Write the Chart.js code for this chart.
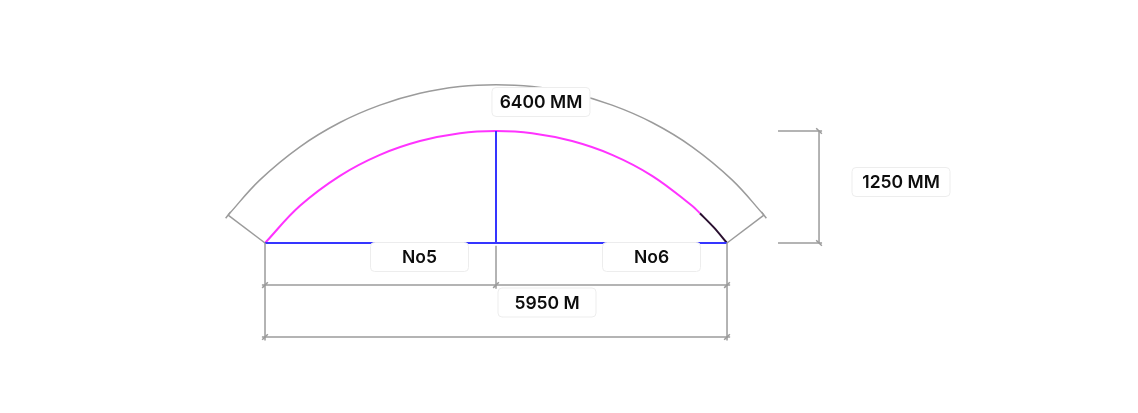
<!DOCTYPE html>
<html>
<head>
  <title>Arch drawing</title>
  <script src="https://cdn.jsdelivr.net/npm/chart.js"></script>
  <style>
    body { margin: 0; background: #fff; }
    #wrap { width: 1138px; height: 413px; position: relative; }
  </style>
</head>
<body>
  <div id="wrap"><canvas id="myChart"></canvas></div>
  <script>
    // drawing units are mm
    var archX = [0, 450, 965, 1480, 1995, 2510, 2975, 3440, 3955, 4470, 4985, 5500, 5600];
    var archY = [0, 415, 750, 984, 1138, 1226, 1250, 1226, 1138, 984, 750, 415, 333];
    var archEndX = [5600, 5780, 5950];
    var archEndY = [333, 174, 0];

    var outerX = [-475, -65, 450, 965, 1480, 1995, 2510, 2975, 3440, 3955, 4470, 4985, 5500, 6015, 6425];
    var outerY = [312, 705, 1074, 1345, 1539, 1671, 1746, 1767, 1746, 1671, 1539, 1345, 1074, 705, 312];

    var span = 5950;
    var rise = 1250;
    var dimY1 = -469;
    var dimY2 = -1049;
    var heightDimX = 7135;

    var labelText = ['6400 MM', 'No5', 'No6', '5950 M', '1250 MM'];
    var labelX = [3554, 1990, 4978, 3632, 8191];
    var labelY = [1574, -156, -156, -664, 681];

    function pts(xs, ys) {
      return xs.map(function(x, i) { return { x: x, y: ys[i] }; });
    }

    var gray = '#9b9b9b';

    function line(data, color, width, tension) {
      return {
        data: data,
        showLine: true,
        borderColor: color,
        borderWidth: width,
        pointRadius: 0,
        tension: tension || 0
      };
    }

    function ticks(data, rot) {
      return {
        data: data,
        showLine: false,
        pointStyle: 'line',
        pointRadius: 4,
        rotation: rot,
        borderColor: gray,
        borderWidth: 1.5
      };
    }

    var labelPlugin = {
      id: 'labels',
      afterDatasetsDraw: function(chart) {
        var c = chart.ctx;
        var xs = chart.scales.x, ys = chart.scales.y;
        c.save();
        c.font = '600 17.5px Inter, "Noto Sans", sans-serif';
        c.textAlign = 'center';
        c.textBaseline = 'middle';
        labelText.forEach(function(t, i) {
          var cx = xs.getPixelForValue(labelX[i]);
          var cy = ys.getPixelForValue(labelY[i]);
          var w = 98, h = 29;
          c.beginPath();
          c.roundRect(cx - w / 2, cy - h / 2, w, h, 4);
          c.fillStyle = '#fff';
          c.fill();
          c.strokeStyle = '#ededed';
          c.lineWidth = 1;
          c.stroke();
          c.fillStyle = '#0d0d0d';
          c.fillText(t, cx, cy + 1);
        });
        c.restore();
      }
    };

    var ctx = document.getElementById('myChart').getContext('2d');
    var myChart = new Chart(ctx, {
      type: 'scatter',
      data: {
        datasets: [
          // outer dimension arc and its extension lines
          line(pts(outerX, outerY), gray, 1.5, 0.4),
          line([{ x: 0, y: 0 }, { x: outerX[0], y: outerY[0] }], gray, 1.5),
          line([{ x: span, y: 0 }, { x: outerX[outerX.length - 1], y: outerY[outerY.length - 1] }], gray, 1.5),
          // span dimension
          line([{ x: 0, y: 0 }, { x: 0, y: dimY2 - 40 }], gray, 1.5),
          line([{ x: span / 2, y: -30 }, { x: span / 2, y: dimY1 - 40 }], gray, 1.5),
          line([{ x: span, y: 0 }, { x: span, y: dimY2 - 40 }], gray, 1.5),
          line([{ x: -40, y: dimY1 }, { x: span + 40, y: dimY1 }], gray, 1.5),
          line([{ x: -40, y: dimY2 }, { x: span + 40, y: dimY2 }], gray, 1.5),
          // height dimension
          line([{ x: 6607, y: rise }, { x: 7174, y: rise }], gray, 1.5),
          line([{ x: 6607, y: 0 }, { x: 7174, y: 0 }], gray, 1.5),
          line([{ x: heightDimX, y: rise }, { x: heightDimX, y: 0 }], gray, 1.5),
          ticks([{ x: 0, y: dimY1 }, { x: span / 2, y: dimY1 }, { x: span, y: dimY1 },
                 { x: 0, y: dimY2 }, { x: span, y: dimY2 }], -45),
          ticks([{ x: heightDimX, y: rise }, { x: heightDimX, y: 0 }], 45),
          ticks([{ x: outerX[0], y: outerY[0] }], -52),
          ticks([{ x: outerX[outerX.length - 1], y: outerY[outerY.length - 1] }], 52),
          // arch
          line([{ x: 0, y: 0 }, { x: span, y: 0 }], '#3535ff', 2),
          line([{ x: span / 2, y: 0 }, { x: span / 2, y: rise }], '#3535ff', 2),
          line(pts(archX, archY), '#ff33ff', 2, 0.4),
          line(pts(archEndX, archEndY), '#2a1030', 2, 0.3)
        ]
      },
      options: {
        responsive: true,
        maintainAspectRatio: false,
        animation: false,
        layout: { padding: 0, autoPadding: false },
        plugins: {
          legend: { display: false },
          tooltip: { enabled: false }
        },
        scales: {
          x: { type: 'linear', display: false, min: -3413, max: 11243 },
          y: { type: 'linear', display: false, min: -1897, max: 2712 }
        }
      },
      plugins: [labelPlugin]
    });
  </script>
</body>
</html>
